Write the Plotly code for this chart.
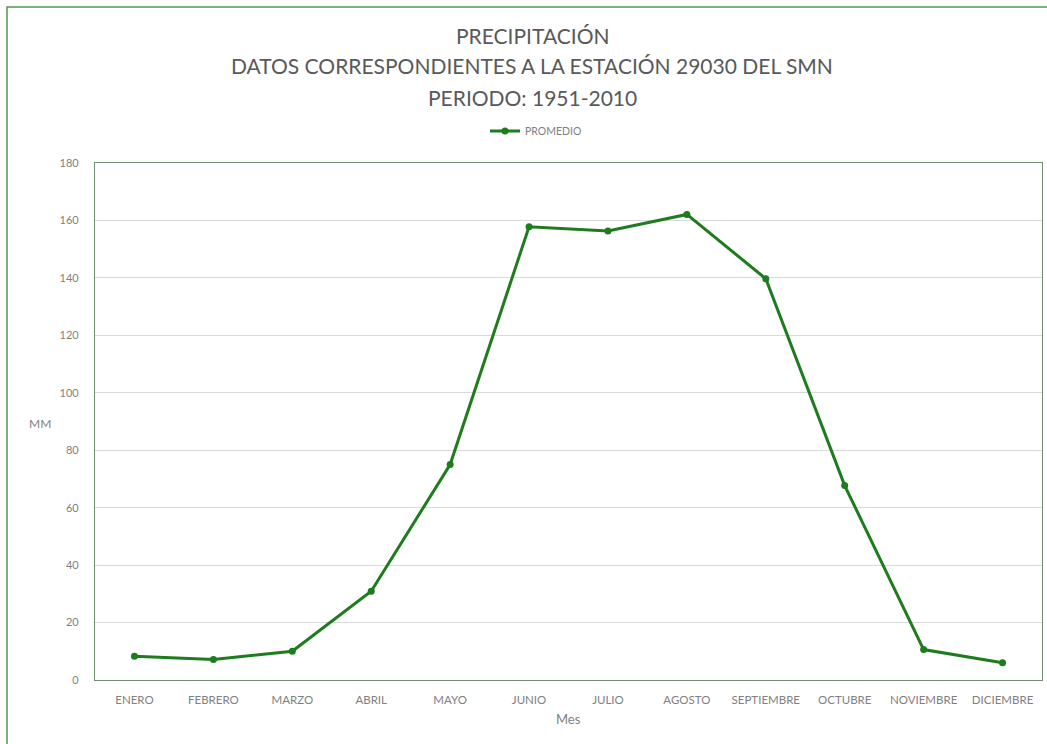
import plotly.graph_objects as go

# Monthly mean precipitation (mm), station 29030, 1951-2010
meses = ["ENERO", "FEBRERO", "MARZO", "ABRIL", "MAYO", "JUNIO", "JULIO",
         "AGOSTO", "SEPTIEMBRE", "OCTUBRE", "NOVIEMBRE", "DICIEMBRE"]
promedio = [8.3, 7.1, 10.0, 30.9, 75.0, 157.8, 156.3, 162.1, 139.7, 67.7, 10.6, 6.0]
y_ticks = [0, 20, 40, 60, 80, 100, 120, 140, 160, 180]
title_lines = ["PRECIPITACIÓN",
               "DATOS CORRESPONDIENTES A LA ESTACIÓN 29030 DEL SMN",
               "PERIODO: 1951-2010"]

W, H = 1047, 744
L, R, T, B = 95, 5, 163, 64
pw, ph = W - L - R, H - T - B

def px_x(x):
    return (x - L) / pw

def px_y(y):
    return (H - B - y) / ph

green = "#1e7b1e"
text_gray = "#808080"
font = "Lato"

fig = go.Figure()
fig.add_trace(go.Scatter(
    x=meses, y=promedio, name="PROMEDIO", mode="lines+markers",
    line=dict(color=green, width=3),
    marker=dict(color=green, size=7),
))

annotations = [dict(
    text=line, xref="paper", yref="paper",
    x=px_x(532), y=px_y(35 + 31 * i), xanchor="center", yanchor="middle",
    showarrow=False, font=dict(family=font, size=21, color="#595959"),
) for i, line in enumerate(title_lines)]
annotations.append(dict(
    text="MM", xref="paper", yref="paper",
    x=px_x(40), y=px_y(423), xanchor="center", yanchor="middle",
    showarrow=False, font=dict(family=font, size=12, color=text_gray),
))
annotations.append(dict(
    text="Mes", xref="paper", yref="paper",
    x=px_x(568), y=px_y(719), xanchor="center", yanchor="middle",
    showarrow=False, font=dict(family=font, size=13, color=text_gray),
))

fig.update_layout(
    width=W, height=H,
    margin=dict(l=L, r=R, t=T, b=B),
    paper_bgcolor="white", plot_bgcolor="white",
    font=dict(family=font, color=text_gray),
    showlegend=True,
    legend=dict(
        orientation="h", x=px_x(536), xanchor="center",
        y=px_y(131), yanchor="middle",
        font=dict(family=font, size=10.5, color=text_gray),
        itemwidth=30, bgcolor="rgba(0,0,0,0)",
    ),
    xaxis=dict(
        type="category", range=[-0.5, 11.5],
        showgrid=False, showline=True, linecolor="#6f8f6f", linewidth=1.2,
        mirror=True, ticks="",
        tickfont=dict(family=font, size=11.5, color=text_gray),
        ticklabelstandoff=9,
    ),
    yaxis=dict(
        range=[0, 180], tickvals=y_ticks,
        showgrid=True, gridcolor="#d9d9d9", gridwidth=1,
        showline=True, linecolor="#6f8f6f", linewidth=1.2, mirror=True,
        zeroline=False, ticks="",
        tickfont=dict(family=font, size=11, color=text_gray),
        ticklabelstandoff=13,
    ),
    shapes=[dict(
        type="rect", xref="paper", yref="paper",
        x0=px_x(7), x1=px_x(1060), y0=px_y(760), y1=px_y(7),
        line=dict(color="#4f9a4f", width=1.5), fillcolor="rgba(0,0,0,0)",
        layer="below",
    )],
    annotations=annotations,
)

fig.write_html("out.html")
